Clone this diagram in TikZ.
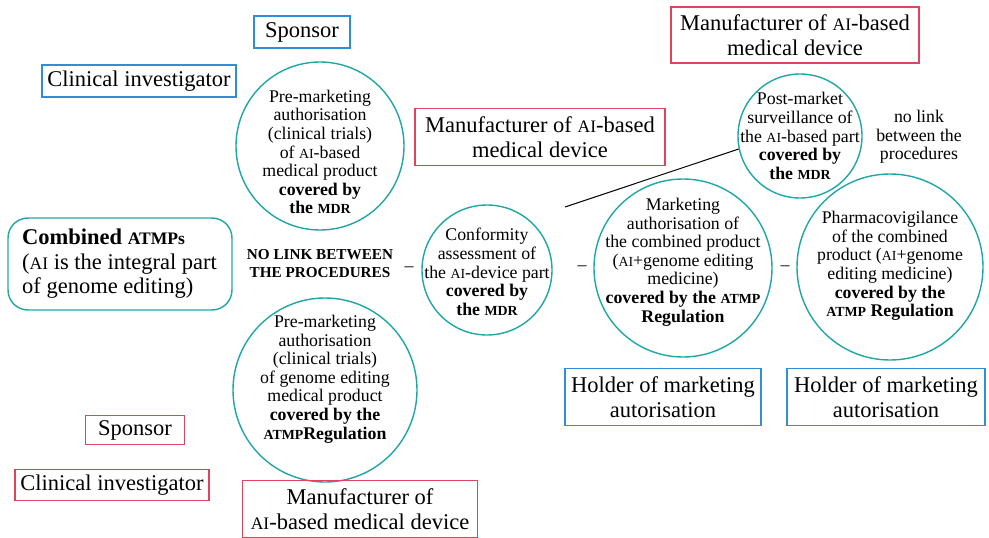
\documentclass[tikz,border=0pt]{standalone}
\usepackage{fontspec}
\setmainfont{Liberation Serif}
\usepackage{graphicx}
\newcommand\smc[1]{\scalebox{0.78}{#1}}
\definecolor{tealc}{HTML}{1FA6A6}
\definecolor{bluec}{HTML}{2E8FD6}
\definecolor{redc}{HTML}{E0435F}
\tikzset{
  bluebox/.style={draw=bluec, line width=1.2pt, inner sep=0pt, align=center, font=\fontsize{22.5}{24.5}\selectfont},
  redbox/.style={draw=redc, line width=1.2pt, inner sep=0pt, align=center, font=\fontsize{22.5}{24.5}\selectfont},
  circ/.style={draw=tealc, line width=1.4pt, circle, inner sep=0pt},
  ctext/.style={align=center, inner sep=0pt, font=\fontsize{17.8}{18.6}\selectfont},
  dashtxt/.style={inner sep=0pt, font=\fontsize{18}{18.5}\selectfont},
}
\begin{document}
\begin{tikzpicture}[x=1pt,y=-1pt]
\useasboundingbox (0,0) rectangle (989,538);
\fill[white] (0,0) rectangle (989,538);

% blue boxes (top left)
\node[bluebox, minimum width=96, minimum height=32] (spon1) at (302,32) {Sponsor};
\node[bluebox, minimum width=194, minimum height=32] (inv1) at (139,81) {Clinical investigator};

% circle 1
\node[circ, minimum size=168] (pre1) at (320,146) {};
\node[ctext] (pre1t) at (320,152) {Pre-marketing\\authorisation\\(clinical trials)\\of \smc{AI}-based\\medical product\\\textbf{covered by}\\\textbf{the \smc{MDR}}};

% red boxes middle and top right
\node[redbox, minimum width=250, minimum height=57] (man1) at (540,137) {Manufacturer of \smc{AI}-based\\medical device};
\node[redbox, minimum width=248, minimum height=56] (man2) at (795,35) {Manufacturer of \smc{AI}-based\\medical device};

% post-market circle
\node[circ, minimum size=124] (post) at (800,136) {};
\node[ctext] (postt) at (800,136) {Post-market\\surveillance of\\the \smc{AI}-based part\\\textbf{covered by}\\\textbf{the \smc{MDR}}};
\node[ctext] (nolink2) at (919,137) {no link\\between the\\procedures};

\coordinate (lstart) at (565,207);
\draw[line width=1pt] (lstart) -- (post.192);

% combined box
\node[draw=tealc, line width=1.4pt, rounded corners=20pt, minimum width=224, minimum height=92, inner sep=0pt] (comb) at (120,264) {};
\node[align=left, anchor=west, inner sep=0pt, font=\fontsize{22.5}{24.5}\selectfont] (combt) at (22,264) {\textbf{Combined \smc{ATMPs}}\\(\smc{AI} is the integral part\\of genome editing)};

% no link text
\node[align=center, inner sep=0pt, font=\bfseries\fontsize{15.2}{18}\selectfont] (nolink) at (320,264) {NO LINK BETWEEN\\THE PROCEDURES};
\node[dashtxt] (d1) at (409,269) {--};

% conformity
\node[circ, minimum size=130] (conf) at (487,270) {};
\node[ctext] (conft) at (487,272) {Conformity\\assessment of\\the \smc{AI}-device part\\\textbf{covered by}\\\textbf{the \smc{MDR}}};
\node[dashtxt] (d2) at (582,268) {--};

% marketing
\node[circ, minimum size=178] (mkt) at (683,268) {};
\node[ctext] (mktt) at (683,262) {Marketing\\authorisation of\\the combined product\\(\smc{AI}+genome editing\\medicine)\\\textbf{covered by the \smc{ATMP}}\\\textbf{Regulation}};
\node[dashtxt] (d3) at (785,268) {--};

% pharmacovigilance
\node[circ, minimum size=186] (pharm) at (890,267) {};
\node[ctext] (pharmt) at (890,266) {Pharmacovigilance\\of the combined\\product (\smc{AI}+genome\\editing medicine)\\\textbf{covered by the}\\\textbf{\smc{ATMP} Regulation}};

% circle 3
\node[circ, minimum size=184] (pre2) at (325,390) {};
\node[ctext] (pre2t) at (325,379) {Pre-marketing\\authorisation\\(clinical trials)\\of genome editing\\medical product\\\textbf{covered by the}\\\textbf{\smc{ATMP}Regulation}};

% holder boxes
\node[bluebox, minimum width=196, minimum height=57] (hold1) at (663,397) {Holder of marketing\\autorisation};
\node[bluebox, minimum width=198, minimum height=57] (hold2) at (886,397) {Holder of marketing\\autorisation};

% red boxes bottom left
\node[redbox, minimum width=99, minimum height=29] (spon2) at (135,430) {Sponsor};
\node[redbox, minimum width=194, minimum height=31] (inv2) at (112,485) {Clinical investigator};
\node[redbox, minimum width=235, minimum height=57] (man3) at (360,509) {Manufacturer of\\\smc{AI}-based medical device};
\end{tikzpicture}
\end{document}
